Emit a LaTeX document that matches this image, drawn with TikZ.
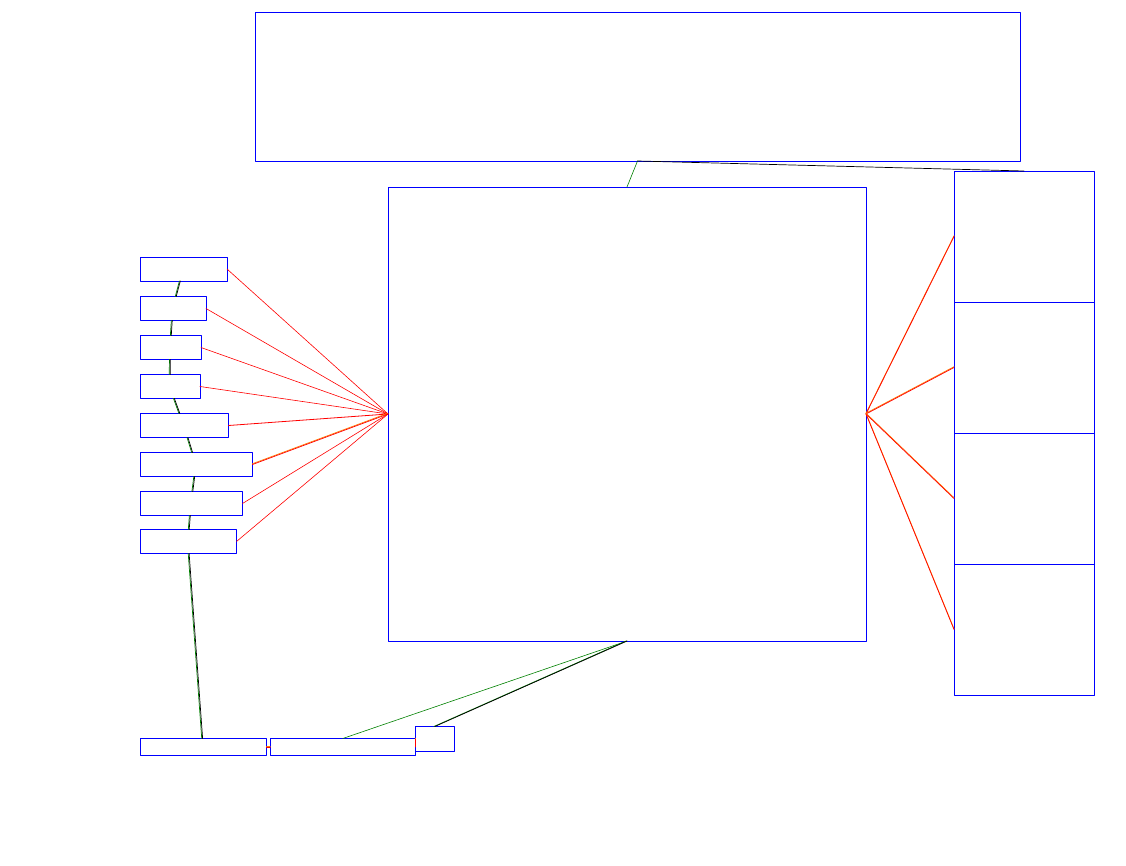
\documentclass[tikz,border=0pt]{standalone}
\usetikzlibrary{arrows}
\tikzset{blk/.style={draw=blue,line width=0.8pt,rectangle,anchor=north west,inner sep=0pt,outer sep=0pt},
	redln/.style={draw=red,line width=0.6pt},
	pairro/.style={draw=red,line width=0.7pt,preaction={draw=orange,line width=0.7pt,transform canvas={yshift=0.8pt}}},
	pairgk/.style={draw=black,line width=0.7pt,preaction={draw=green!50!black,line width=0.7pt,transform canvas={xshift=-0.9pt}}},
	grnln/.style={draw=green!50!black,line width=0.6pt}}
\begin{document}
\begin{tikzpicture}[line cap=round,line join=round,>=triangle 45,x=1pt,y=-1pt]
			\useasboundingbox (0,0) rectangle (1126,866);
			\node[blk,minimum width=765,minimum height=149] (top) at (255,12) {};
			\node[blk,minimum width=478,minimum height=454] (core) at (388,187) {};
			\node[blk,minimum width=140,minimum height=131] (r1) at (954,171) {};
			\node[blk,minimum width=140,minimum height=131] (r2) at (954,302) {};
			\node[blk,minimum width=140,minimum height=131] (r3) at (954,433) {};
			\node[blk,minimum width=140,minimum height=131] (r4) at (954,564) {};
			\node[blk,minimum width=87,minimum height=24] (l1) at (140,257) {};
			\node[blk,minimum width=66,minimum height=24] (l2) at (140,296.5) {};
			\node[blk,minimum width=61,minimum height=24] (l3) at (140,335.5) {};
			\node[blk,minimum width=60,minimum height=24] (l4) at (140,374.5) {};
			\node[blk,minimum width=88.5,minimum height=24] (l5) at (140,413.5) {};
			\node[blk,minimum width=112.5,minimum height=24] (l6) at (140,452.5) {};
			\node[blk,minimum width=102.5,minimum height=24] (l7) at (140,491.5) {};
			\node[blk,minimum width=96.5,minimum height=24] (l8) at (140,529.5) {};
			\node[blk,minimum width=126.5,minimum height=17] (b1) at (140,738.5) {};
			\node[blk,minimum width=145,minimum height=17] (b2) at (270.3,738.5) {};
			\node[blk,minimum width=39,minimum height=25] (b3) at (415.3,726.5) {};
			\draw [redln] (l1.east) -- (core.west);
			\draw [redln] (l2.east) -- (core.west);
			\draw [redln] (l3.east) -- (core.west);
			\draw [redln] (l4.east) -- (core.west);
			\draw [redln,line width=0.8pt] (l5.east) -- (core.west);
			\draw [pairro] (l6.east) -- (core.west);
			\draw [redln] (l7.east) -- (core.west);
			\draw [redln] (l8.east) -- (core.west);
			\draw [pairro] (core.east) -- (r1.west);
			\draw [pairro] (core.east) -- (r2.west);
			\draw [pairro] (core.east) -- (r3.west);
			\draw [pairro] (core.east) -- (r4.west);
			\draw [pairgk] (l1) -- (l2);
			\draw [pairgk] (l2) -- (l3);
			\draw [pairgk] (l3) -- (l4);
			\draw [pairgk] (l4) -- (l5);
			\draw [pairgk] (l5) -- (l6);
			\draw [pairgk] (l6) -- (l7);
			\draw [pairgk] (l7) -- (l8);
			\draw [pairgk] (l8) -- (b1);
			\draw [pairro] (b1.east) -- (b2.west);
			\draw [pairro] (b2.east) -- (b3.west);
			\draw [grnln] (top.south) -- (core.north);
			\draw [line width=0.7pt] (top.south) -- (r1.north);
			\draw [grnln] (core.south) -- (b2.north);
			\draw [pairgk] (core.south) -- (b3.north);
		\end{tikzpicture}
\end{document}
